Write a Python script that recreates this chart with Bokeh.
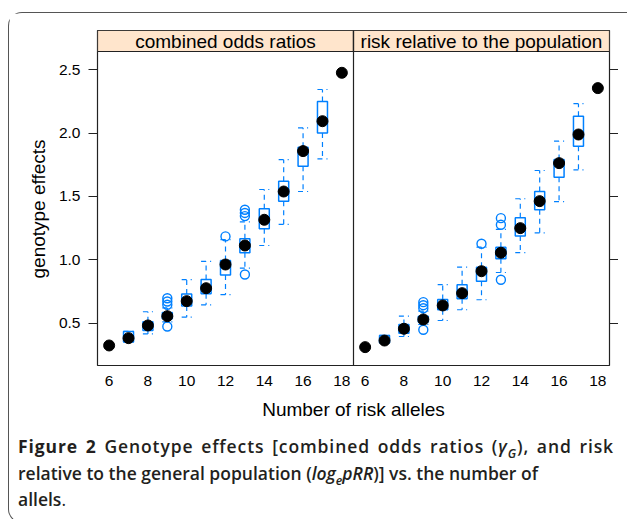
from bokeh.plotting import figure
from bokeh.models import (Range1d, LinearAxis, FixedTicker, CustomJSTickFormatter,
                          ColumnDataSource, Div, Title)
from bokeh.layouts import column
from bokeh.core.properties import value
from bokeh.embed import file_html
from bokeh.resources import INLINE

# ---------------- data ----------------
alleles = [6, 7, 8, 9, 10, 11, 12, 13, 14, 15, 16, 17, 18]
panel_titles = ["combined odds ratios", "risk relative to the population"]
x_ticks = [6, 8, 10, 12, 14, 16, 18]
y_ticks = [0.5, 1.0, 1.5, 2.0, 2.5]
y_tick_labels = ["0.5", "1.0", "1.5", "2.0", "2.5"]

# combined odds ratios
or_median = [0.324, 0.382, 0.482, 0.555, 0.674, 0.776, 0.963, 1.113, 1.316, 1.539, 1.858, 2.094, 2.476]
or_q1     = [0.324, 0.352, 0.442, 0.535, 0.636, 0.733, 0.880, 1.056, 1.245, 1.463, 1.739, 2.000, 2.476]
or_q3     = [0.324, 0.435, 0.512, 0.585, 0.730, 0.845, 0.995, 1.166, 1.403, 1.621, 1.889, 2.250, 2.476]
or_wlo    = [0.324, 0.352, 0.415, 0.510, 0.547, 0.645, 0.725, 0.935, 1.113, 1.279, 1.539, 1.797, 2.476]
or_whi    = [0.324, 0.435, 0.590, 0.620, 0.843, 0.988, 1.160, 1.300, 1.555, 1.790, 2.042, 2.344, 2.476]
or_out_x  = [9, 9, 9, 9, 12, 13, 13, 13, 13]
or_out_y  = [0.697, 0.671, 0.645, 0.474, 1.185, 1.395, 1.370, 1.345, 0.884]

# risk relative to the population
rr_median = [0.311, 0.363, 0.456, 0.529, 0.640, 0.737, 0.910, 1.056, 1.250, 1.463, 1.763, 1.989, 2.355]
rr_q1     = [0.311, 0.345, 0.420, 0.510, 0.606, 0.693, 0.831, 1.008, 1.187, 1.395, 1.652, 1.897, 2.355]
rr_q3     = [0.311, 0.403, 0.490, 0.555, 0.687, 0.803, 0.942, 1.100, 1.332, 1.539, 1.792, 2.134, 2.355]
rr_wlo    = [0.311, 0.345, 0.395, 0.490, 0.521, 0.606, 0.685, 0.900, 1.056, 1.213, 1.460, 1.710, 2.355]
rr_whi    = [0.311, 0.403, 0.555, 0.595, 0.805, 0.942, 1.100, 1.240, 1.482, 1.705, 1.936, 2.232, 2.355]
rr_out_x  = [9, 9, 9, 9, 12, 13, 13, 13]
rr_out_y  = [0.666, 0.642, 0.618, 0.448, 1.127, 1.329, 1.277, 0.843]

# ---------------- layout / style ----------------
BLUE = "#0080ff"
FONT = "Liberation Sans"
PAD = 0.6
X_LO, X_HI = min(alleles) - PAD, max(alleles) + PAD
SPAN = X_HI - X_LO
Y_LO, Y_PANEL_TOP = 0.166, 2.644
PX_PER_UNIT = 126.7
STRIP_PX = 21
Y_TOP = Y_PANEL_TOP + STRIP_PX / PX_PER_UNIT
FRAME_H = (Y_TOP - Y_LO) * PX_PER_UNIT
MB_TOP, MB_BOT = 17, 63

p = figure(width=609, height=int(round(FRAME_H + MB_TOP + MB_BOT)),
           x_range=Range1d(X_LO, X_LO + 2 * SPAN), y_range=Range1d(Y_LO, Y_TOP),
           output_backend="svg", toolbar_location=None,
           min_border_left=88, min_border_right=8, min_border_top=MB_TOP,
           min_border_bottom=MB_BOT, x_axis_location=None, y_axis_location=None)
p.extra_x_ranges = {"right": Range1d(X_LO - SPAN, X_HI)}
p.grid.visible = False
p.outline_line_color = "#222222"
p.outline_line_width = 1.2
p.background_fill_color = "white"
p.border_fill_color = "white"

# axes
left = LinearAxis(ticker=FixedTicker(ticks=y_ticks),
                  major_label_overrides={t: l for t, l in zip(y_ticks, y_tick_labels)})
right = LinearAxis(ticker=FixedTicker(ticks=y_ticks),
                   formatter=CustomJSTickFormatter(code="return '';"),
                   major_label_standoff=0)
for ax in (left, right):
    ax.axis_line_color = None
    ax.major_tick_out = 9
    ax.major_tick_in = 0
    ax.minor_tick_out = 0
    ax.minor_tick_in = 0
    ax.major_tick_line_color = "#222222"
    ax.major_tick_line_width = 1.2
left.major_label_text_font = FONT
left.major_label_text_font_size = "15.5px"
left.major_label_text_color = "black"
left.major_label_standoff = 8
p.add_layout(left, "left")
p.add_layout(right, "right")

# y-axis title, centred on the panel area (not on the strip)
ylab = Title(text="genotype effects", align="left", offset=87, standoff=14,
             text_font=FONT, text_font_size="19px", text_font_style="normal",
             text_color="black")
p.add_layout(ylab, "left")

bottom_ticks = list(x_ticks) + [t + SPAN for t in x_ticks]
bottom = LinearAxis(ticker=FixedTicker(ticks=bottom_ticks),
                    formatter=CustomJSTickFormatter(args={"off": SPAN, "cut": X_HI},
                                                    code="return (tick > cut ? tick - off : tick).toFixed(0);"),
                    axis_label="Number of risk alleles")
bottom.axis_line_color = None
bottom.major_tick_out = 0
bottom.major_tick_in = 0
bottom.minor_tick_out = 0
bottom.minor_tick_in = 0
bottom.major_label_standoff = 10
bottom.major_label_text_font = FONT
bottom.major_label_text_font_size = "15.5px"
bottom.major_label_text_color = "black"
bottom.axis_label_text_font = FONT
bottom.axis_label_text_font_size = "19px"
bottom.axis_label_text_font_style = "normal"
bottom.axis_label_text_color = "black"
bottom.axis_label_standoff = 10
p.add_layout(bottom, "below")

panels = [
    ("default", or_median, or_q1, or_q3, or_wlo, or_whi, or_out_x, or_out_y),
    ("right", rr_median, rr_q1, rr_q3, rr_wlo, rr_whi, rr_out_x, rr_out_y),
]
CAP = 0.26
for (rng, med, q1, q3, wlo, whi, ox, oy), title in zip(panels, panel_titles):
    src = ColumnDataSource(dict(
        x=alleles, med=med, q1=q1, q3=q3, wlo=wlo, whi=whi,
        mid=[(a + b) / 2 for a, b in zip(q1, q3)],
        h=[b - a for a, b in zip(q1, q3)],
        cl=[a - CAP for a in alleles], cr=[a + CAP for a in alleles]))
    # strip
    p.quad(left=[X_LO], right=[X_HI], bottom=[Y_PANEL_TOP], top=[Y_TOP],
           fill_color="#ffe5cc", line_color="#222222", line_width=1.2, x_range_name=rng)
    p.text(x=[(X_LO + X_HI) / 2], y=[(Y_PANEL_TOP + Y_TOP) / 2], text=[title],
           text_align="center", text_baseline="middle", text_font=value(FONT),
           text_font_size="19px", text_color="black", x_range_name=rng)
    # whiskers
    kw = dict(line_color=BLUE, line_width=1.2, line_dash="5 4", source=src, x_range_name=rng)
    p.segment(x0="x", y0="q3", x1="x", y1="whi", **kw)
    p.segment(x0="x", y0="q1", x1="x", y1="wlo", **kw)
    p.segment(x0="cl", y0="whi", x1="cr", y1="whi", **kw)
    p.segment(x0="cl", y0="wlo", x1="cr", y1="wlo", **kw)
    # box
    p.rect(x="x", y="mid", width=10, width_units="screen", height="h", fill_color="white",
           line_color=BLUE, line_width=1.5, source=src, x_range_name=rng)
    # outliers
    p.scatter(x=ox, y=oy, marker="circle", size=9, fill_color=None, line_color=BLUE,
              line_width=1.4, x_range_name=rng)
    # medians
    p.scatter(x="x", y="med", marker="circle", size=11, fill_color="black",
              line_color="black", source=src, x_range_name=rng)

# panel divider
p.segment(x0=[X_HI], y0=[Y_LO], x1=[X_HI], y1=[Y_TOP], line_color="#222222", line_width=1.2)

SUB = '<sub style="font-size:0.7em;line-height:0">'
caption = (
    '<div style="font-family:\'Open Sans\'; font-size:17.5px; line-height:26.5px; '
    'color:#231f20; white-space:nowrap; padding-left:4px; font-weight:600">'
    '<div style="width:596px; letter-spacing:0.9px; text-align:justify; text-align-last:justify">'
    '<b style="font-weight:700">Figure 2</b> Genotype effects [combined odds ratios '
    '(<i>&gamma;' + SUB + 'G</sub></i>), and risk</div>'
    '<div>relative to the general population (<i>log' + SUB + 'e</sub>pRR</i>)] '
    'vs. the number of</div><div>allels<span style="font-weight:400">.</span></div></div>')
div = Div(text=caption, width=609, height=84)

layout = column(p, div, styles={
    "margin-top": "12px", "margin-left": "8px",
    "border": "1.5px solid #555555", "border-right": "none",
    "border-radius": "14px 0 0 14px"})

open("out.html", "w").write(file_html(layout, INLINE))
